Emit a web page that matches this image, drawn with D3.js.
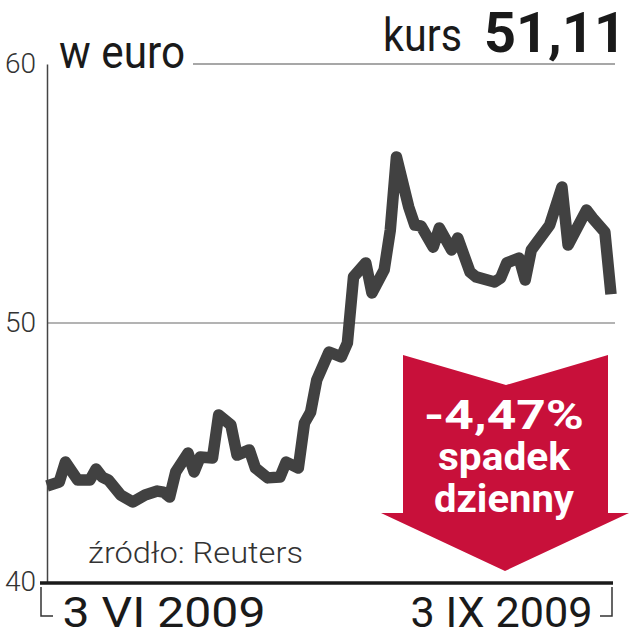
<!DOCTYPE html>
<html>
<head>
<meta charset="utf-8">
<script src="https://cdn.jsdelivr.net/npm/d3@7"></script>
<style>
  html, body { margin: 0; padding: 0; background: #fff; }
  svg { display: block; }
</style>
</head>
<body>
<svg id="chart" width="630" height="640"></svg>
<script>
// ---- data ----
const dates = ["2009-06-03","2009-06-05","2009-06-06","2009-06-08","2009-06-10","2009-06-11","2009-06-12","2009-06-13","2009-06-15","2009-06-17","2009-06-19","2009-06-21","2009-06-22","2009-06-23","2009-06-24","2009-06-26","2009-06-27","2009-06-28","2009-06-30","2009-07-01","2009-07-03","2009-07-04","2009-07-06","2009-07-07","2009-07-09","2009-07-11","2009-07-12","2009-07-14","2009-07-15","2009-07-16","2009-07-17","2009-07-19","2009-07-21","2009-07-22","2009-07-23","2009-07-25","2009-07-26","2009-07-28","2009-07-29","2009-07-30","2009-08-01","2009-08-02","2009-08-03","2009-08-05","2009-08-06","2009-08-08","2009-08-09","2009-08-11","2009-08-12","2009-08-15","2009-08-16","2009-08-17","2009-08-19","2009-08-20","2009-08-21","2009-08-24","2009-08-26","2009-08-27","2009-08-30","2009-08-31","2009-09-02","2009-09-03"];
const values = [43.71,43.86,44.63,43.94,43.94,44.36,44.05,43.94,43.36,43.09,43.36,43.51,43.47,43.28,44.25,44.98,44.25,44.83,44.79,46.45,46.06,44.90,45.10,44.40,44.02,44.05,44.63,44.40,46.14,46.56,47.80,48.88,48.69,49.23,51.78,52.32,51.16,52.05,53.59,56.41,54.48,53.78,53.75,52.93,53.67,52.82,53.28,51.97,51.78,51.58,51.74,52.32,52.51,51.66,52.82,53.78,55.25,53.01,54.36,54.05,53.51,51.11];
const yTicks = [40, 50, 60];
const xTickDates = ["2009-06-03", "2009-09-03"];
const xTickLabels = ["3 VI 2009", "3 IX 2009"];
const unitLabel = "w euro";
const priceLabel = "kurs";
const priceValue = "51,11";
const changeLines = ["-4,47%", "spadek", "dzienny"];
const sourceLabel = "źródło: Reuters";

// ---- setup ----
(function () {
const parse = d3.timeParse("%Y-%m-%d");
const data = dates.map((d, i) => ({ date: parse(d), value: values[i] }));

const svg = d3.select("#chart");
const mLeft = 47, mRight = 611, mTop = 64, mBottom = 582;

const x = d3.scaleTime()
  .domain([parse(dates[0]), parse(dates[dates.length - 1])])
  .range([mLeft, mRight]);
const y = d3.scaleLinear().domain([40, 60]).range([mBottom, mTop]);

const FONT = "Roboto, 'Liberation Sans', sans-serif";

// gridlines
svg.append("line")
  .attr("x1", 193).attr("x2", 615)
  .attr("y1", y(60)).attr("y2", y(60))
  .attr("stroke", "#8a8a8a").attr("stroke-width", 1.5);
svg.append("line")
  .attr("x1", mLeft).attr("x2", 615)
  .attr("y1", y(50)).attr("y2", y(50))
  .attr("stroke", "#9a9a9a").attr("stroke-width", 1.5);

// y axis
const yAxis = svg.append("g")
  .attr("transform", `translate(${mLeft},0)`)
  .call(d3.axisLeft(y).tickValues(yTicks).tickSize(0).tickPadding(11).tickFormat(d3.format("d")));
yAxis.select(".domain").attr("stroke", "#444").attr("stroke-width", 1.5);
yAxis.selectAll("text")
  .attr("font-family", FONT).attr("font-weight", 300)
  .attr("font-size", 28).attr("fill", "#333");

// title texts
svg.append("text").text(unitLabel)
  .attr("x", 59).attr("y", 68)
  .attr("font-family", FONT).attr("font-size", 46).attr("fill", "#1a1a1a")
  .attr("textLength", 126).attr("lengthAdjust", "spacingAndGlyphs");
svg.append("text").text(priceLabel)
  .attr("x", 383).attr("y", 51)
  .attr("font-family", FONT).attr("font-size", 46).attr("fill", "#1a1a1a")
  .attr("textLength", 79).attr("lengthAdjust", "spacingAndGlyphs");
svg.append("text").text(priceValue)
  .attr("x", 484).attr("y", 52)
  .attr("font-family", FONT).attr("font-weight", 700).attr("font-size", 56).attr("fill", "#1a1a1a")
  .attr("textLength", 142).attr("lengthAdjust", "spacingAndGlyphs");

// source
svg.append("text").text(sourceLabel)
  .attr("x", 88).attr("y", 563)
  .attr("font-family", FONT).attr("font-weight", 300).attr("font-size", 29).attr("fill", "#333")
  .attr("textLength", 215).attr("lengthAdjust", "spacingAndGlyphs");

// red arrow annotation
const arrow = [[403,355],[506,385],[608,355],[608,513],[629,513],[505,571],[381,513],[403,513]];
svg.append("path")
  .attr("d", d3.line()(arrow) + "Z")
  .attr("fill", "#c8103a");
const arrowText = [
  { t: changeLines[0], y: 429, size: 40, len: 160 },
  { t: changeLines[1], y: 470, size: 38, len: 132 },
  { t: changeLines[2], y: 512, size: 38, len: 140 }
];
svg.selectAll("text.arrow").data(arrowText).join("text")
  .attr("class", "arrow")
  .text(d => d.t)
  .attr("x", 504).attr("y", d => d.y)
  .attr("text-anchor", "middle")
  .attr("font-family", FONT).attr("font-weight", 700)
  .attr("font-size", d => d.size).attr("fill", "#fff")
  .attr("textLength", d => d.len).attr("lengthAdjust", "spacingAndGlyphs");

// price line
svg.append("path")
  .datum(data)
  .attr("fill", "none")
  .attr("stroke", "#414141")
  .attr("stroke-width", 11.5)
  .attr("stroke-linejoin", "round")
  .attr("stroke-linecap", "butt")
  .attr("d", d3.line().x(d => x(d.date)).y(d => y(d.value)));

// bottom axis
const xAxis = svg.append("g")
  .attr("transform", `translate(0,${mBottom + 1})`)
  .call(d3.axisBottom(x).tickValues(xTickDates.map(parse)).tickSize(0).tickFormat((d, i) => xTickLabels[i]));
xAxis.select(".domain").remove();
xAxis.append("line")
  .attr("x1", 40).attr("x2", 613).attr("y1", 0).attr("y2", 0)
  .attr("stroke", "#1a1a1a").attr("stroke-width", 3.5);
// bracket ticks
xAxis.append("path")
  .attr("d", "M41,4V33H53")
  .attr("fill", "none").attr("stroke", "#333").attr("stroke-width", 1.5);
xAxis.append("path")
  .attr("d", "M612,4V33H600")
  .attr("fill", "none").attr("stroke", "#333").attr("stroke-width", 1.5);
xAxis.selectAll(".tick text")
  .attr("font-family", FONT).attr("font-size", 42).attr("fill", "#1a1a1a")
  .attr("dy", null).attr("y", 44)
  .attr("text-anchor", (d, i) => i === 0 ? "start" : "end")
  .attr("dx", (d, i) => i === 0 ? 15 : -19)
  .attr("textLength", (d, i) => i === 0 ? 203 : 182)
  .attr("lengthAdjust", "spacingAndGlyphs");
})();
</script>
</body>
</html>
